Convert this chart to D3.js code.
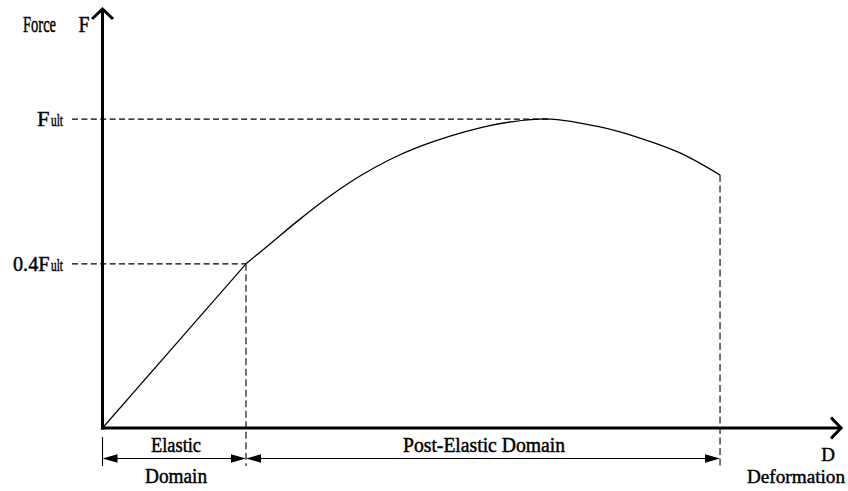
<!DOCTYPE html>
<html>
<head>
<meta charset="utf-8">
<script src="https://cdn.jsdelivr.net/npm/d3@7"></script>
<style>
  html, body { margin: 0; padding: 0; background: #fff; }
  svg { display: block; }
  text { font-family: "Liberation Serif", "Times New Roman", serif; fill: #000; stroke: #000; stroke-width: 0.45px; }
</style>
</head>
<body>
<svg id="chart" width="848" height="491"></svg>
<script>
// Force–deformation curve (schematic), F expressed as a fraction of Fult
const elasticPoint = { d: 19.43, f: 0.4 };
const ultimatePoint = { d: 60.6, f: 1.0 };

// post-elastic branch: deformation and force / Fult
const postDeform = [19.43, 22.68, 26.74, 30.81, 34.87, 38.93, 42.99, 47.06, 51.12, 55.18, 60.6, 67.37, 72.78, 78.2, 83.62];
const postForce  = [0.40, 0.472, 0.567, 0.660, 0.744, 0.816, 0.874, 0.921, 0.959, 0.986, 1.0, 0.963, 0.912, 0.845, 0.7485];

// force tick values and their labels (main part + "ult" suffix)
const forceTicks = [0.4, 1.0];
const forceTickMain = ["0.4F", "F"];
const forceTickSuffix = ["ult", "ult"];
const forceTickMainWidths = [36.5, 12.5];

// domain labels along the deformation axis
const domainNames = [["Elastic", "Domain"], ["Post-Elastic Domain"]];
const domainBounds = [[0, elasticPoint.d], [elasticPoint.d, postDeform[postDeform.length - 1]]];

const svg = d3.select("#chart");

const x = d3.scaleLinear().domain([0, 100]).range([102.5, 841]);
// stretched force scale so the elastic limit sits clearly apart from Fult
const y = d3.scalePow().exponent(0.69).domain([0, 1.555]).range([428, 9]);

const x0 = x(0), y0 = y(0);
const xEnd = x.range()[1], yTop = y.range()[1];

// dashed guides from the force labels to the curve
svg.append("g").selectAll("line")
  .data([elasticPoint, ultimatePoint])
  .join("line")
  .attr("x1", 72).attr("x2", d => x(d.d))
  .attr("y1", d => y(d.f)).attr("y2", d => y(d.f))
  .attr("stroke", "#000").attr("stroke-width", 1.2)
  .attr("stroke-dasharray", "6,3.4");

// vertical dashed guides down to the dimension line
const lastD = postDeform[postDeform.length - 1], lastF = postForce[postForce.length - 1];
svg.append("g").selectAll("line")
  .data([elasticPoint, { d: lastD, f: lastF }])
  .join("line")
  .attr("x1", d => x(d.d)).attr("x2", d => x(d.d))
  .attr("y1", d => y(d.f)).attr("y2", 466)
  .attr("stroke", "#000").attr("stroke-width", 1.1)
  .attr("stroke-dasharray", "7,3.5");

// extension line under the origin
svg.append("line")
  .attr("x1", x0).attr("x2", x0).attr("y1", y0 + 9).attr("y2", 466)
  .attr("stroke", "#000").attr("stroke-width", 1.1);

// elastic branch
svg.append("path")
  .attr("d", d3.line().x(d => x(d.d)).y(d => y(d.f))([{ d: 0, f: 0 }, elasticPoint]))
  .attr("fill", "none").attr("stroke", "#000").attr("stroke-width", 1.2);

// post-elastic branch
const postPts = postDeform.map((d, i) => ({ d, f: postForce[i] }));
svg.append("path")
  .attr("d", d3.line().x(d => x(d.d)).y(d => y(d.f)).curve(d3.curveCatmullRom)(postPts))
  .attr("fill", "none").attr("stroke", "#000").attr("stroke-width", 1.3);

// axes with open arrowheads
const axisG = svg.append("g").attr("stroke", "#000").attr("stroke-width", 3)
  .attr("fill", "none").attr("stroke-linecap", "butt");
axisG.append("line").attr("x1", x0).attr("x2", x0).attr("y1", y0 + 1.5).attr("y2", yTop + 1);
axisG.append("line").attr("x1", x0 - 1.5).attr("x2", xEnd - 1).attr("y1", y0).attr("y2", y0);
axisG.append("path").attr("d", `M${x0 - 10.5},${yTop + 10}L${x0},${yTop}L${x0 + 10.5},${yTop + 10}`)
  .attr("stroke-linejoin", "miter");
axisG.append("path").attr("d", `M${xEnd - 10},${y0 - 10.5}L${xEnd},${y0}L${xEnd - 10},${y0 + 10.5}`)
  .attr("stroke-linejoin", "miter");

// force tick labels: main part ends where the "ult" suffix begins
const tickG = svg.append("g");
forceTicks.forEach((v, i) => {
  const mainEnd = 49.5;
  tickG.append("text")
    .attr("x", mainEnd - forceTickMainWidths[i]).attr("y", y(v) + 7)
    .attr("font-size", 22)
    .attr("textLength", forceTickMainWidths[i]).attr("lengthAdjust", "spacingAndGlyphs")
    .text(forceTickMain[i]);
  tickG.append("text")
    .attr("x", mainEnd + 1.5).attr("y", y(v) + 7)
    .attr("font-size", 17)
    .attr("textLength", 12).attr("lengthAdjust", "spacingAndGlyphs")
    .text(forceTickSuffix[i]);
});

// axis titles
svg.append("text").attr("x", 23).attr("y", 32).attr("font-size", 22.5)
  .attr("textLength", 33).attr("lengthAdjust", "spacingAndGlyphs").text("Force");
svg.append("text").attr("x", 78.5).attr("y", 32).attr("font-size", 22.5)
  .attr("textLength", 11).attr("lengthAdjust", "spacingAndGlyphs").text("F");
svg.append("text").attr("x", 828).attr("y", 461).attr("font-size", 19)
  .attr("text-anchor", "middle").text("D");
svg.append("text").attr("x", 796).attr("y", 483).attr("font-size", 19.5)
  .attr("text-anchor", "middle").attr("textLength", 98).attr("lengthAdjust", "spacingAndGlyphs")
  .text("Deformation");

// dimension lines with filled arrowheads
const dimY = 458.5;
const arrowLen = 15, arrowHalf = 4.2;
domainBounds.forEach(([a, b]) => {
  const xa = x(a), xb = x(b);
  svg.append("line").attr("x1", xa + 2).attr("x2", xb - 2).attr("y1", dimY).attr("y2", dimY)
    .attr("stroke", "#000").attr("stroke-width", 1.1);
  svg.append("path")
    .attr("d", `M${xa},${dimY}L${xa + arrowLen},${dimY - arrowHalf}L${xa + arrowLen},${dimY + arrowHalf}Z`)
    .attr("fill", "#000");
  svg.append("path")
    .attr("d", `M${xb},${dimY}L${xb - arrowLen},${dimY - arrowHalf}L${xb - arrowLen},${dimY + arrowHalf}Z`)
    .attr("fill", "#000");
});

// domain names
const nameWidths = [[50, 62], [162]];
domainNames.forEach((lines, i) => {
  const cx = i === 0 ? 176 : 484;
  lines.forEach((s, j) => {
    svg.append("text")
      .attr("x", cx).attr("y", j === 0 ? 451.5 : 483)
      .attr("font-size", 20.5).attr("text-anchor", "middle")
      .attr("textLength", nameWidths[i][j]).attr("lengthAdjust", "spacingAndGlyphs")
      .text(s);
  });
});
</script>
</body>
</html>
